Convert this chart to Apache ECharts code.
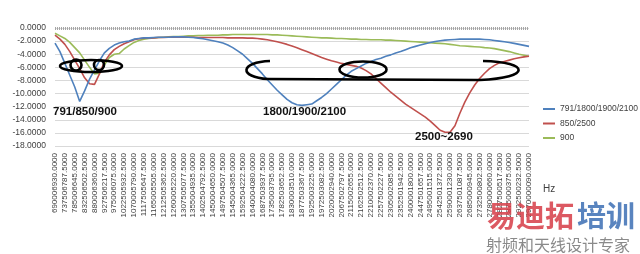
<!DOCTYPE html>
<html><head><meta charset="utf-8">
<script src="https://cdn.jsdelivr.net/npm/echarts@6/dist/echarts.min.js"></script>
<style>html,body{margin:0;padding:0;background:#fff}#c{width:640px;height:254px}</style>
</head><body><div id="c"></div>
<script>
// Frequency tick labels (Hz), one per labelled sweep point
const freqLabels = ["690006930.0000","737506787.5000","785006645.0000","832506502.5000","880006360.0000","927506217.5000","975006075.0000","1022505932.5000","1070005790.0000","1117505647.5000","1165005505.0000","1212505362.5000","1260005220.0000","1307505077.5000","1355004935.0000","1402504792.5000","1450004650.0000","1497504507.5000","1545004365.0000","1592504222.5000","1640004080.0000","1687503937.5000","1735003795.0000","1782503652.5000","1830003510.0000","1877503367.5000","1925003225.0000","1972503082.5000","2020002940.0000","2067502797.5000","2115002655.0000","2162502512.5000","2210002370.0000","2257502227.5000","2305002085.0000","2352501942.5000","2400001800.0000","2447501657.5000","2495001515.0000","2542501372.5000","2590001230.0000","2637501087.5000","2685000945.0000","2732500802.5000","2780000660.0000","2827500517.5000","2875000375.0000","2922500232.5000","2970000090.0000"];
// Y tick values
const yTicks = [0,-2,-4,-6,-8,-10,-12,-14,-16,-18];
// Series names
const seriesNames = ["791/1800/1900/2100","850/2500","900"];
// Values at every labelled point and the point halfway to the next one
const blue = [-2.3,-3.6,-5.4,-7.2,-9.0,-11.2,-9.6,-7.8,-6.4,-5.0,-3.8,-3.1,-2.6,-2.3,-2.1,-2.0,-1.7,-1.6,-1.5,-1.5,-1.45,-1.4,-1.4,-1.4,-1.35,-1.35,-1.35,-1.4,-1.45,-1.55,-1.65,-1.8,-1.95,-2.1,-2.3,-2.6,-3.0,-3.5,-4.0,-4.7,-5.4,-6.2,-7.0,-7.9,-8.7,-9.5,-10.2,-10.9,-11.4,-11.7,-11.8,-11.7,-11.6,-11.1,-10.6,-10.0,-9.3,-8.6,-7.9,-7.2,-6.6,-6.2,-5.8,-5.4,-5.1,-4.8,-4.6,-4.3,-4.1,-3.8,-3.6,-3.3,-3.0,-2.8,-2.6,-2.4,-2.2,-2.05,-1.95,-1.85,-1.8,-1.75,-1.7,-1.7,-1.7,-1.7,-1.7,-1.75,-1.8,-1.9,-2.0,-2.1,-2.2,-2.35,-2.5,-2.65,-2.8];
const red = [-1.1,-1.7,-2.5,-3.6,-4.9,-6.2,-7.6,-8.5,-8.6,-7.0,-5.2,-4.1,-3.3,-2.8,-2.4,-2.1,-1.8,-1.65,-1.55,-1.5,-1.5,-1.45,-1.45,-1.4,-1.4,-1.4,-1.4,-1.4,-1.4,-1.45,-1.45,-1.45,-1.45,-1.45,-1.45,-1.5,-1.5,-1.5,-1.5,-1.55,-1.55,-1.6,-1.7,-1.8,-1.95,-2.1,-2.3,-2.5,-2.75,-3.0,-3.3,-3.6,-3.9,-4.2,-4.5,-4.75,-5.0,-5.2,-5.4,-5.55,-5.7,-5.85,-6.1,-6.5,-7.0,-7.7,-8.4,-9.1,-9.8,-10.4,-11.0,-11.6,-12.1,-12.6,-13.1,-13.6,-14.2,-14.9,-15.6,-15.9,-15.9,-14.9,-13.0,-11.3,-9.9,-8.7,-7.7,-6.9,-6.2,-5.7,-5.3,-5.1,-4.9,-4.7,-4.55,-4.4,-4.3];
const green = [-0.8,-1.2,-1.6,-2.2,-3.0,-3.8,-4.9,-6.0,-7.0,-6.9,-5.6,-4.5,-4.0,-3.9,-3.2,-2.7,-2.2,-1.9,-1.7,-1.6,-1.5,-1.45,-1.4,-1.35,-1.3,-1.3,-1.25,-1.2,-1.2,-1.15,-1.15,-1.1,-1.1,-1.1,-1.05,-1.05,-1.0,-1.0,-1.0,-1.0,-1.0,-1.0,-1.0,-1.0,-1.05,-1.05,-1.1,-1.15,-1.2,-1.25,-1.3,-1.35,-1.4,-1.45,-1.5,-1.5,-1.55,-1.6,-1.6,-1.65,-1.7,-1.7,-1.75,-1.75,-1.8,-1.8,-1.8,-1.85,-1.85,-1.9,-1.95,-2.0,-2.05,-2.1,-2.15,-2.2,-2.25,-2.3,-2.35,-2.4,-2.5,-2.6,-2.7,-2.75,-2.8,-2.85,-2.9,-3.0,-3.05,-3.15,-3.3,-3.45,-3.6,-3.8,-4.0,-4.15,-4.3];
const bandLabels = ["791/850/900","1800/1900/2100","2500~2690"];
const unitLabel = "Hz";
const wmTitleRed = "易迪拓";
const wmTitleBlue = "培训";
const wmSub = "射频和天线设计专家";

// categories: labelled points interleaved with unlabelled midpoints
const categories = [];
freqLabels.forEach((f, i) => { categories.push(f); if (i < freqLabels.length - 1) categories.push(''); });

const FONT = '"Liberation Sans", Arial, sans-serif';
const chart = echarts.init(document.getElementById('c'), null, {renderer: 'canvas'});
const colors = ['#4f81bd', '#c0504d', '#9bbb59'];
const ink = '#000';
const loop = {fill: null, stroke: ink, lineWidth: 2.6};

chart.setOption({
  animation: false,
  backgroundColor: '#fff',
  grid: {left: 55, right: 111, top: 28, bottom: 108, containLabel: false},
  xAxis: {
    type: 'category', data: categories, boundaryGap: false,
    axisLine: {show: false}, axisTick: {show: false}, splitLine: {show: false},
    axisLabel: {interval: 1, rotate: 90, fontSize: 8, color: '#404040', fontFamily: FONT, margin: 7}
  },
  yAxis: {
    type: 'value', min: yTicks[yTicks.length - 1], max: yTicks[0], interval: 2,
    axisLine: {show: false}, axisTick: {show: false},
    splitLine: {lineStyle: {color: '#d9d9d9', width: 1}},
    axisLabel: {formatter: v => v.toFixed(4), fontSize: 8.5, color: '#404040', fontFamily: FONT, margin: 9}
  },
  legend: {
    orient: 'vertical', left: 538, top: 99, itemWidth: 12, itemHeight: 2, itemGap: 4.5,
    icon: 'rect', data: seriesNames,
    textStyle: {fontSize: 8.5, color: '#404040', fontFamily: FONT, lineHeight: 10}
  },
  series: [
    {name: seriesNames[0], type: 'line', data: blue, showSymbol: false, lineStyle: {width: 1.6, color: colors[0]}, itemStyle: {color: colors[0]}, z: 3,
     markLine: {silent: true, symbol: 'none', label: {show: false}, lineStyle: {color: '#a6a6a6', width: 3, type: [1, 1]}, data: [{yAxis: 0}]}},
    {name: seriesNames[1], type: 'line', data: red, showSymbol: false, lineStyle: {width: 1.6, color: colors[1]}, itemStyle: {color: colors[1]}, z: 2},
    {name: seriesNames[2], type: 'line', data: green, showSymbol: false, lineStyle: {width: 1.6, color: colors[2]}, itemStyle: {color: colors[2]}, z: 1}
  ],
  graphic: [
    // hand-drawn annotation loops
    {type: 'ellipse', shape: {cx: 91, cy: 66, rx: 31, ry: 6}, style: loop, z: 10},
    {type: 'circle', shape: {cx: 76, cy: 65, r: 5.5}, style: loop, z: 10},
    {type: 'circle', shape: {cx: 99, cy: 65, r: 5}, style: loop, z: 10},
    {type: 'bezierCurve', shape: {x1: 270, y1: 61, cpx1: 240, cpy1: 62, cpx2: 238, cpy2: 77, x2: 268, y2: 79}, style: loop, z: 10},
    {type: 'line', shape: {x1: 268, y1: 79, x2: 480, y2: 80}, style: loop, z: 10},
    {type: 'bezierCurve', shape: {x1: 480, y1: 80, cpx1: 532, cpy1: 78, cpx2: 530, cpy2: 62, x2: 483, y2: 61}, style: loop, z: 10},
    {type: 'ellipse', shape: {cx: 363, cy: 69.5, rx: 23.5, ry: 8}, style: loop, z: 10},
    // band labels
    {type: 'text', left: 53, top: 106, style: {text: bandLabels[0], font: 'bold 11.5px ' + FONT, fill: '#111'}, z: 11},
    {type: 'text', left: 263, top: 106, style: {text: bandLabels[1], font: 'bold 11.5px ' + FONT, fill: '#111'}, z: 11},
    {type: 'text', left: 415, top: 131, style: {text: bandLabels[2], font: 'bold 11.5px ' + FONT, fill: '#111'}, z: 11},
    // unit
    {type: 'text', left: 543, top: 184, style: {text: unitLabel, font: '10px ' + FONT, fill: '#404040'}},
    // watermark
    {type: 'text', left: 487, top: 201, style: {text: wmTitleRed, font: 'bold 29px "Noto Sans CJK SC"', fill: 'rgba(214,60,70,0.85)'}, z: 12},
    {type: 'text', left: 577, top: 201, style: {text: wmTitleBlue, font: 'bold 29px "Noto Sans CJK SC"', fill: 'rgba(60,110,180,0.85)'}, z: 12},
    {type: 'text', left: 486, top: 237, style: {text: wmSub, font: '16px "Noto Sans CJK SC"', fill: '#8a8a8a'}, z: 12}
  ]
});
</script></body></html>
